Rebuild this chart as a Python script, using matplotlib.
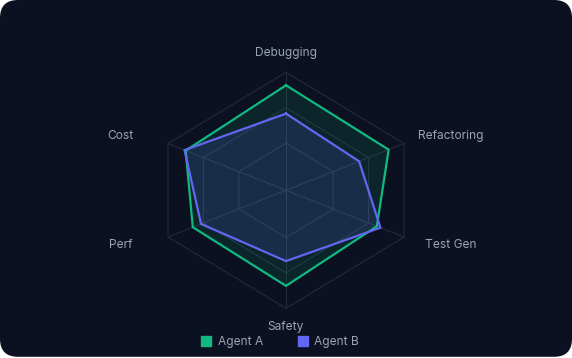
import numpy as np
import matplotlib
matplotlib.use('Agg')
import matplotlib.pyplot as plt
from matplotlib.patches import FancyBboxPatch, Polygon
from matplotlib.lines import Line2D

# radar axes, clockwise from the top
CATEGORIES = ['Debugging', 'Refactoring', 'Test Gen', 'Safety', 'Perf', 'Cost']
AGENT_A = [89, 87, 77, 81, 79, 85]
AGENT_B = [65, 62, 80, 60, 72, 86]
SERIES_NAMES = ['Agent A', 'Agent B']
RINGS = [40, 70, 100]
MAX_VAL = 100

# spoke directions - the grid is a flattened hexagon, not a regular one
DIR_X = np.array([0.0, 1.0, 1.0, 0.0, -1.0, -1.0])
DIR_Y = np.array([1.0, 0.396, -0.396, -1.0, -0.396, 0.396])

BG = '#0b1120'
GRID = '#222b3b'
TEXT = '#9aa3b3'
GREEN = '#10b981'
BLUE = '#6366f1'

W, H = 572, 358
CX, CY = 286, H - 190.3   # centre of the radar in pixels (from bottom-left)
R = 118                   # outer ring radius in pixels


def to_xy(vals):
    v = np.asarray(vals, dtype=float) / MAX_VAL
    return v * DIR_X, v * DIR_Y


fig = plt.figure(figsize=(W / 100, H / 100), dpi=100)
fig.patch.set_facecolor('white')

# dark card with rounded corners
card = FancyBboxPatch((0, 0.012), W / 100, H / 100 - 0.012,
                      boxstyle='round,pad=0,rounding_size=0.18',
                      transform=fig.dpi_scale_trans, facecolor=BG,
                      edgecolor='none', zorder=-5)
fig.add_artist(card)

ax = fig.add_axes([0, 0, 1, 1])
ax.set_xlim(-CX / R, (W - CX) / R)
ax.set_ylim(-CY / R, (H - CY) / R)
ax.axis('off')

# grid rings and spokes
for r in RINGS:
    x, y = to_xy([r] * len(CATEGORIES))
    ax.add_patch(Polygon(np.column_stack([x, y]), closed=True, fill=False,
                         edgecolor=GRID, lw=0.8, zorder=1))
for dx, dy in zip(DIR_X, DIR_Y):
    ax.plot([0, dx], [0, dy], color=GRID, lw=0.8, zorder=1)

# series
for vals, color, alpha in [(AGENT_A, GREEN, 0.12), (AGENT_B, BLUE, 0.15)]:
    x, y = to_xy(vals)
    ax.fill(x, y, color=color, alpha=alpha, lw=0, zorder=2)
    ax.plot(np.append(x, x[0]), np.append(y, y[0]), color=color, lw=1.6,
            solid_joinstyle='miter', zorder=3)

# axis labels
for cat, dx, dy in zip(CATEGORIES, DIR_X, DIR_Y):
    ax.text(dx * 1.40, dy * 1.16, cat, ha='center', va='center',
            fontsize=8.6, color=TEXT, family='Inter')

handles = [Line2D([], [], marker='s', ms=7, color=c, ls='none')
           for c in (GREEN, BLUE)]
fig.legend(handles, SERIES_NAMES, loc='center',
           bbox_to_anchor=(280.5 / W, 1 - 342 / H), ncol=2, frameon=False,
           handlelength=0.7, handletextpad=0.6, columnspacing=3.0,
           prop={'family': 'Inter', 'size': 8.6}, labelcolor=TEXT)

fig.savefig('out.png', dpi=100, facecolor=fig.get_facecolor())
